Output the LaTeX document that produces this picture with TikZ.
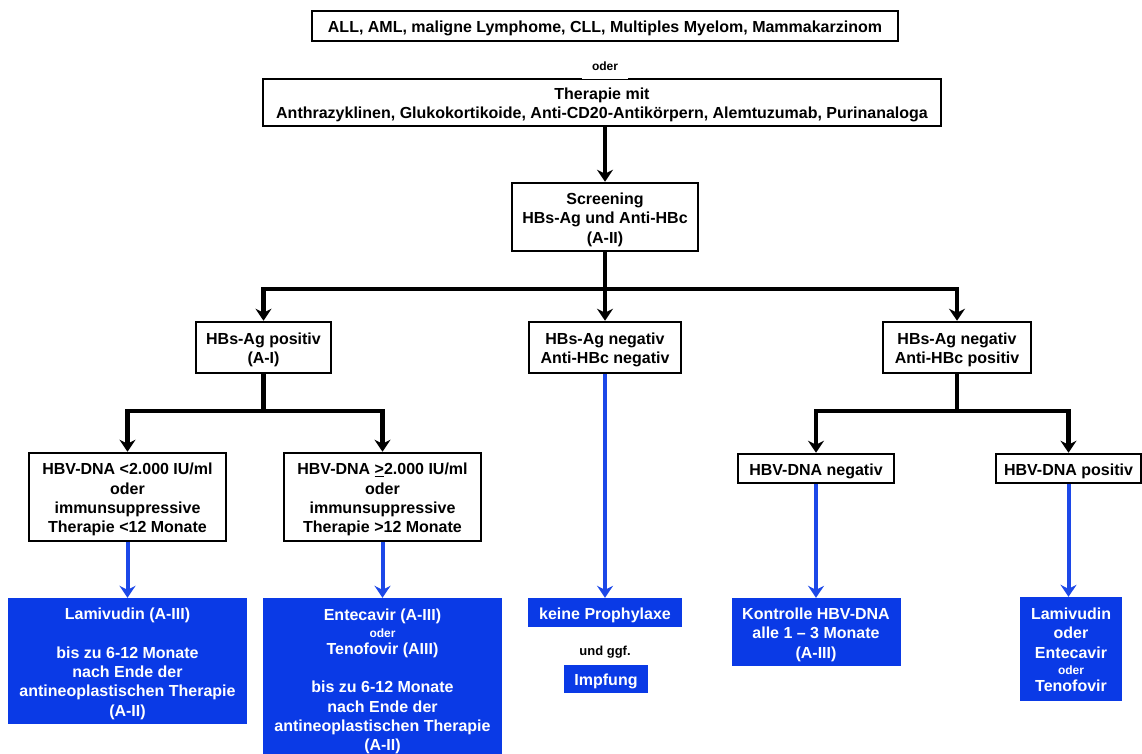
\documentclass[tikz,border=0pt]{standalone}
\usepackage{fontspec}
\setmainfont{Liberation Sans}
\usetikzlibrary{arrows.meta}
\definecolor{boxblue}{RGB}{10,58,230}
\definecolor{arrblue}{RGB}{28,72,232}
\newcommand{\smtxt}[1]{{\fontsize{12}{14}\selectfont #1}}
\newcommand{\fst}{\rule{0pt}{17.5pt}}
\newcommand{\lst}{\rule[-4pt]{0pt}{4pt}}
\begin{document}
\begin{tikzpicture}[x=1pt,y=-1pt,
  every node/.style={font=\fontsize{16}{19.3}\selectfont\bfseries, align=center, inner sep=0pt},
  wbox/.style={draw=black, line width=2.5pt, fill=white},
  bbox/.style={fill=boxblue, text=white},
  connl/.style={line width=4.5pt},
  conn/.style={line width=4.5pt, -{Stealth[length=12pt,width=16pt,inset=4pt]}},
  bconn/.style={line width=4pt, draw=arrblue, -{Stealth[length=12pt,width=16pt,inset=4pt]}}]
\useasboundingbox (0,0) rectangle (1142,754);
% black boxes
\node[wbox, minimum width=586pt, minimum height=30pt] (top) at (605,26) {\fst ALL, AML, maligne Lymphome, CLL, Multiples Myelom, Mammakarzinom\lst};
\node[wbox, minimum width=678pt, minimum height=47pt] (ther) at (602,102.5) {\fst Therapie mit\\Anthrazyklinen, Glukokortikoide, Anti-CD20-Antikörpern, Alemtuzumab, Purinanaloga\lst};
\node[fill=white, minimum width=46pt, minimum height=26pt] (oder) at (605,66) {\smtxt{oder}};
\node[wbox, minimum width=186pt, minimum height=68pt] (scr) at (605,217) {\fst Screening\\HBs-Ag und Anti-HBc\\(A-II)\lst};
\node[wbox, minimum width=135pt, minimum height=51pt] (pos) at (263.5,347.5) {\fst HBs-Ag positiv\\(A-I)\lst};
\node[wbox, minimum width=152pt, minimum height=51pt] (neg) at (605,347.5) {\fst HBs-Ag negativ\\Anti-HBc negativ\lst};
\node[wbox, minimum width=148pt, minimum height=51pt] (negpos) at (957,347.5) {\fst HBs-Ag negativ\\Anti-HBc positiv\lst};
\node[wbox, minimum width=197pt, minimum height=88pt] (dnaL) at (127.5,497) {\fst HBV-DNA <2.000 IU/ml\\oder\\immunsuppressive\\Therapie <12 Monate\lst};
\node[wbox, minimum width=197pt, minimum height=88pt] (dnaG) at (382.5,497) {\fst HBV-DNA \underline{>}2.000 IU/ml\\oder\\immunsuppressive\\Therapie >12 Monate\lst};
\node[wbox, minimum width=156pt, minimum height=29pt] (dnaN) at (816,468.5) {\fst HBV-DNA negativ\lst};
\node[wbox, minimum width=145pt, minimum height=29pt] (dnaP) at (1068.5,468.5) {\fst HBV-DNA positiv\lst};
% blue boxes
\node[bbox, minimum width=239pt, minimum height=126pt] (lam) at (127.5,661) {\fst Lamivudin (A-III)\\[19.3pt]bis zu 6-12 Monate\\nach Ende der\\antineoplastischen Therapie\\(A-II)\lst};
\node[bbox, minimum width=239pt, minimum height=162pt] (ent) at (382.5,679) {\fst Entecavir (A-III)\\[-3pt]\smtxt{oder}\\[-2pt]Tenofovir (AIII)\\[19.3pt]bis zu 6-12 Monate\\nach Ende der\\antineoplastischen Therapie\\(A-II)\lst};
\node[bbox, minimum width=154pt, minimum height=29pt] (kein) at (605,612.5) {\fst keine Prophylaxe\lst};
\node (ggf) at (605,652) {\fontsize{13}{15}\selectfont und ggf.};
\node[bbox, minimum width=84pt, minimum height=28pt] (impf) at (606,679) {\fst Impfung\lst};
\node[bbox, minimum width=169pt, minimum height=68pt] (kontr) at (816,632) {\fst Kontrolle HBV-DNA\\alle 1 – 3 Monate\\(A-III)\lst};
\node[bbox, minimum width=102pt, minimum height=104pt] (lam2) at (1071,649) {\fst Lamivudin\\oder\\Entecavir\\[-3pt]\smtxt{oder}\\[-2pt]Tenofovir\lst};
% black connectors
\draw[conn] (ther.south -| scr.north) -- (scr.north);
\coordinate (j1) at (605,289);
\draw[conn] (scr.south) -- (neg.north);
\draw[conn] (j1) -| (pos.north);
\draw[conn] (j1) -| (negpos.north);
\coordinate (j2) at (263.5,411);
\draw[connl] (pos.south) -- (j2);
\draw[conn] (j2) -| (dnaL.north);
\draw[conn] (j2) -| (dnaG.north);
\coordinate (j3) at (957,411);
\draw[connl] (negpos.south) -- (j3);
\draw[conn] (j3) -| (dnaN.north);
\draw[conn] (j3) -| (dnaP.north);
% blue connectors
\draw[bconn] (dnaL.south) -- (lam.north);
\draw[bconn] (dnaG.south) -- (ent.north);
\draw[bconn] (neg.south) -- (kein.north);
\draw[bconn] (dnaN.south) -- (kontr.north);
\draw[bconn] (dnaP.south) -- (dnaP.south |- lam2.north);
\end{tikzpicture}
\end{document}
